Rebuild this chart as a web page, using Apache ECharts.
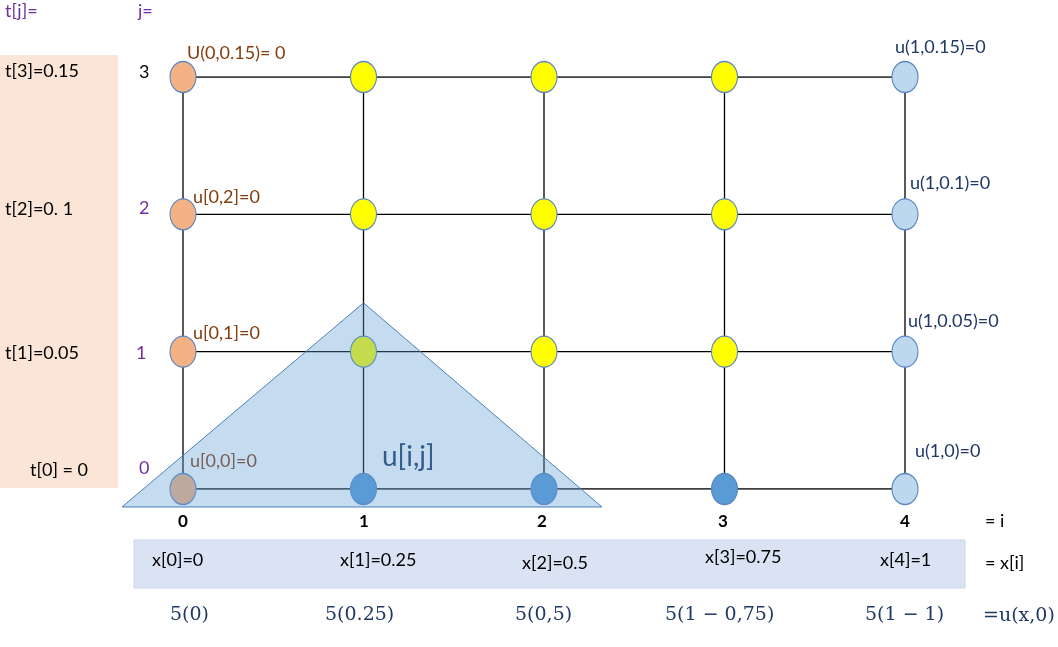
<!DOCTYPE html>
<html><head><meta charset="utf-8">
<script src="https://cdn.jsdelivr.net/npm/echarts@6/dist/echarts.min.js"></script>
<style>html,body{margin:0;padding:0;background:#fff}#c{width:1058px;height:647px}</style>
</head><body><div id="c"></div>
<script>
const iValues = [0, 1, 2, 3, 4];
const jValues = [0, 1, 2, 3];
const xLabels = ['x[0]=0', 'x[1]=0.25', 'x[2]=0.5', 'x[3]=0.75', 'x[4]=1'];
const tLabels = ['t[0] = 0', 't[1]=0.05', 't[2]=0. 1', 't[3]=0.15'];
const uInit = ['5(0)', '5(0.25)', '5(0,5)', '5(1 − 0,75)', '5(1 − 1)'];
const leftBoundary = ['u[0,0]=0', 'u[0,1]=0', 'u[0,2]=0', 'U(0,0.15)= 0'];
const rightBoundary = ['u(1,0)=0', 'u(1,0.05)=0', 'u(1,0.1)=0', 'u(1,0.15)=0'];
// node kind per [i][j]: o=orange boundary, y=interior, b=initial, l=right boundary
const nodeKinds = [
  ['o','o','o','o'],
  ['b','y','y','y'],
  ['b','y','y','y'],
  ['b','y','y','y'],
  ['l','l','l','l']
];
const stencil = [[-0.338, -0.131], [1, 1.355], [2.321, -0.131]];

const kindColor = {o:'#F4B183', y:'#FFFF00', b:'#5B9BD5', l:'#BDD7EE'};
const nodes = [];
iValues.forEach(i => jValues.forEach(j => nodes.push({value:[i,j], itemStyle:{color:kindColor[nodeKinds[i][j]]}})));
const hLines = jValues.map(j => ({type:'line', data:[[0,j],[4,j]], symbol:'none', lineStyle:{color:'#000',width:1.3}, z:1, silent:true}));
const vLines = iValues.map(i => ({type:'line', data:[[i,0],[i,3]], symbol:'none', lineStyle:{color:'#000',width:1.3}, z:1, silent:true}));

const F = 'Lato, "Open Sans", sans-serif';
function txt(x, y, s, color, size, extra) {
  return Object.assign({type:'text', x:x, y:y, style:{text:s, fill:color, font:(size||18)+'px '+F}}, extra||{});
}
const g = [
  {type:'rect', shape:{x:0,y:55,width:118,height:433}, style:{fill:'#FBE5D6'}, z:-1},
  {type:'rect', shape:{x:134,y:540,width:831,height:48}, style:{fill:'#DAE3F3', stroke:'#C9D6EE'}, z:-1},
  txt(5,2,'t[j]=','#7030A0'), txt(138,2,'j=','#7030A0'),
  txt(382,443,'u[i,j]','#1F3864',28),
  txt(985,512,'= i','#000'), txt(985,554,'= x[i]','#000'),
  {type:'text', x:983, y:607, style:{text:'=u(x,0)', fill:'#1F3864', font:'19px "DejaVu Serif", serif'}}
];
const tY = [461, 344, 200, 62];
tLabels.forEach((s,k) => g.push(txt(k==0?30:5, tY[k], s, '#000')));
const jC = ['#7030A0','#7030A0','#7030A0','#000'];
const jY = [459, 344, 199, 63];
jValues.forEach(j => g.push(txt(j==1?136:139, jY[j], String(j), jC[j])));
const lbX = [190, 193, 193, 187], lbY = [452, 324, 188, 44];
leftBoundary.forEach((s,k) => g.push(txt(lbX[k], lbY[k], s, '#843C0C')));
const rbX = [915, 908, 910, 895], rbY = [442, 312, 174, 38];
rightBoundary.forEach((s,k) => g.push(txt(rbX[k], rbY[k], s, '#1F3864')));
const iX = [183, 364, 542, 723, 905];
iValues.forEach(i => g.push({type:'text', x:iX[i], y:513, style:{text:String(i), fill:'#000', font:'bold 17px '+F, textAlign:'center'}}));
const xlX = [152, 340, 522, 705, 880], xlY = [551, 551, 554, 548, 551];
xLabels.forEach((s,k) => g.push(txt(xlX[k], xlY[k], s, '#000')));
const uX = [170, 325, 515, 665, 865];
uInit.forEach((s,k) => g.push({type:'text', x:uX[k], y:606, style:{text:s, fill:'#1F3864', font:'19px "DejaVu Serif", serif'}}));

const chart = echarts.init(document.getElementById('c'));
chart.setOption({
  animation:false,
  grid:{left:183, width:722, top:77, height:412},
  xAxis:{type:'value', min:0, max:4, show:false},
  yAxis:{type:'value', min:0, max:3, show:false},
  graphic:g,
  series: hLines.concat(vLines).concat([
    {type:'scatter', data:nodes, symbol:'circle', symbolSize:[26,31], z:3,
     itemStyle:{borderColor:'#5B87C0', borderWidth:1.2, opacity:1}},
    {type:'custom', z:5, silent:true, data:[0],
     renderItem:(p, api) => ({type:'polygon', shape:{points:stencil.map(v => api.coord(v))},
       style:{fill:'rgba(91,155,213,0.36)', stroke:'#4A7EBB', lineWidth:1}})}
  ])
});
</script></body></html>
